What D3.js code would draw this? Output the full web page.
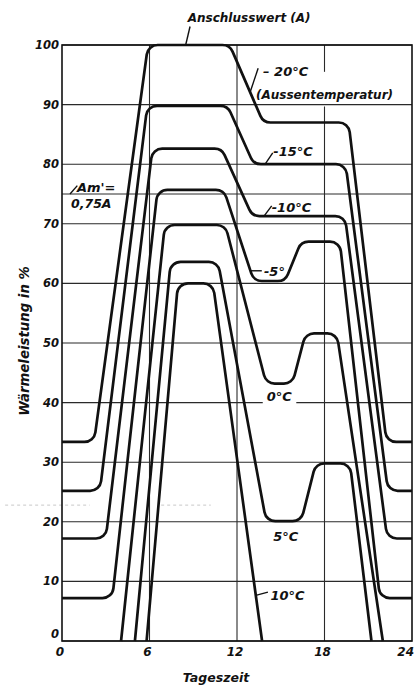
<!DOCTYPE html>
<html><head><meta charset="utf-8">
<script src="https://cdn.jsdelivr.net/npm/d3@7"></script>
<style>
html,body{margin:0;padding:0;background:#fff;}
svg{display:block;}
text{font-family:"DejaVu Sans",sans-serif;font-weight:bold;font-style:italic;fill:#111;}
</style></head>
<body><svg id="chart" width="415" height="687"></svg>
<script>
// ---- data (hour of day, heat output in %) ----
const xTicks = [0, 6, 12, 18, 24];
const yTicks = [0, 10, 20, 30, 40, 50, 60, 70, 80, 90, 100];
const seriesNames = ["-20°C", "-15°C", "-10°C", "-5°", "0°C", "5°C", "10°C"];
const curveMinus20 = [[0,33.4],[2.2,33.4],[5.9,100],[11.5,100],[13.8,87],[19.65,87],[22.25,33.4],[24,33.4]];
const curveMinus15 = [[0,25.2],[2.6,25.2],[5.85,89.8],[11.35,89.8],[13.15,80],[19.45,80],[22.35,25.2],[24,25.2]];
const curveMinus10 = [[0,17.2],[3.0,17.2],[6.2,82.6],[10.95,82.6],[13.05,71.3],[19.4,71.3],[22.3,17.2],[24,17.2]];
const curveMinus5  = [[0,7.2],[3.45,7.2],[6.55,75.7],[11.1,75.7],[13.15,60.4],[15.3,60.4],[16.4,67],[19.05,67],[21.8,7.2],[24,7.2]];
const curvePlus0   = [[4.05,0],[7.05,69.8],[11.2,69.8],[14.0,43.2],[15.8,43.2],[16.7,51.6],[18.85,51.6],[22.0,0]];
const curvePlus5   = [[5.0,0],[7.45,63.6],[10.7,63.6],[14.0,20.1],[16.4,20.1],[17.4,29.8],[19.75,29.8],[21.22,0]];
const curvePlus10  = [[5.8,0],[7.95,60],[10.35,60],[13.72,0]];
const connectedLoadLevel = 75; // Am' = 0,75 A
const curves = [curveMinus20, curveMinus15, curveMinus10, curveMinus5, curvePlus0, curvePlus5, curvePlus10];

// ---- layout ----
const svg = d3.select("#chart");
const x = d3.scaleLinear().domain([0, 24]).range([62, 412]);
const y = d3.scaleLinear().domain([0, 100]).range([641, 45]);

function valueAt(pts, h){
  for (let i=1;i<pts.length;i++){
    const a=pts[i-1], b=pts[i];
    if (h>=a[0] && h<=b[0]) return a[1]+(b[1]-a[1])*(h-a[0])/(b[0]-a[0]);
  }
  return pts[pts.length-1][1];
}

// faint scan artefact (dotted line)
const g0 = svg.append("g");
[[-3.9,1.9],[6.8,10.2]].forEach(s=>{
  g0.append("line").attr("x1",x(s[0])).attr("x2",x(s[1])).attr("y1",y(22.8)).attr("y2",y(22.8))
    .attr("stroke","#c8c8c8").attr("stroke-width",1).attr("stroke-dasharray","3,3");
});

// grid
const grid = svg.append("g").attr("stroke","#2a2a2a").attr("stroke-width",1.1);
yTicks.forEach(v=>{
  grid.append("line").attr("x1",x(0)).attr("x2",x(24)).attr("y1",y(v)).attr("y2",y(v));
});
const vGaps = {18: [89.7, 95.5]};
xTicks.slice(1,-1).forEach(h=>{
  if (vGaps[h]){
    grid.append("line").attr("x1",x(h)).attr("x2",x(h)).attr("y1",y(100)).attr("y2",y(vGaps[h][1]));
    grid.append("line").attr("x1",x(h)).attr("x2",x(h)).attr("y1",y(vGaps[h][0])).attr("y2",y(0));
  } else {
    grid.append("line").attr("x1",x(h)).attr("x2",x(h)).attr("y1",y(100)).attr("y2",y(0));
  }
});
// Am' line
grid.append("line").attr("x1",x(0)).attr("x2",x(24)).attr("y1",y(connectedLoadLevel)).attr("y2",y(connectedLoadLevel))
  .attr("stroke-width",1);

// frame
svg.append("rect").attr("x",x(0)).attr("y",y(100)).attr("width",x(24)-x(0)).attr("height",y(0)-y(100))
  .attr("fill","none").attr("stroke","#111").attr("stroke-width",1.6);

// label backgrounds (cut grid lines)
const bgG = svg.append("g");

// curves with rounded corners
function roundedPath(pts, r){
  const P = pts.map(d=>[x(d[0]), y(d[1])]);
  const p = d3.path();
  p.moveTo(P[0][0], P[0][1]);
  for (let i=1;i<P.length-1;i++){
    const a=P[i-1], b=P[i], c=P[i+1];
    const v1=[a[0]-b[0],a[1]-b[1]], v2=[c[0]-b[0],c[1]-b[1]];
    const l1=Math.hypot(...v1), l2=Math.hypot(...v2);
    const cos=(v1[0]*v2[0]+v1[1]*v2[1])/(l1*l2);
    const phi=Math.acos(Math.max(-1,Math.min(1,cos)));
    const maxR=Math.min(l1,l2)/2*Math.tan(phi/2);
    p.arcTo(b[0],b[1],c[0],c[1],Math.min(r,maxR));
  }
  p.lineTo(P[P.length-1][0], P[P.length-1][1]);
  return p.toString();
}
svg.append("g").selectAll("path").data(curves).join("path")
  .attr("d", d=>roundedPath(d, 11))
  .attr("fill","none").attr("stroke","#111").attr("stroke-width",2.7)
  .attr("stroke-linejoin","round");

// axes labels
const tl = svg.append("g");
yTicks.forEach(v=>{
  tl.append("text").attr("x",x(0)-3).attr("y",y(v)+ (v===0?-3:4)).attr("text-anchor","end")
    .attr("font-size",11.5).text(v);
});
xTicks.forEach((h,i)=>{
  const last = i===xTicks.length-1;
  tl.append("text").attr("x",last ? 414 : x(h)-2).attr("y",656)
    .attr("text-anchor", last ? "end" : "middle")
    .attr("font-size",12).text(h);
});
tl.append("text").attr("x",216).attr("y",682).attr("text-anchor","middle").attr("font-size",12.5).text("Tageszeit");
tl.append("text").attr("transform","translate(29,341) rotate(-90)").attr("text-anchor","middle")
  .attr("font-size",13.3).text("Wärmeleistung in %");

// annotations: text position in data units, optional leader from a curve (by hour) to a point
const annotations = [
  {text:"Anschlusswert  (A)", h:8.62, v:103.9, size:12, leader:[[8.48,100],[8.78,103.1]]},
  {text:"– 20°C", h:13.79, v:94.8, size:13, curve:0, from:12.9, to:[13.45,96.1]},
  {text:"(Aussentemperatur)", h:13.3, v:90.9, size:12, bg:true},
  {text:"-15°C", h:14.49, v:81.4, size:13, curve:1, from:13.93, to:[14.45,81.9]},
  {text:"-10°C", h:14.38, v:72.0, size:13, curve:2, from:13.85, to:[14.38,73.0]},
  {text:"-5°", h:13.85, v:61.2, size:13, curve:3, from:12.92, to:[13.7,62.0], flat:true},
  {text:"0°C", h:14.04, v:40.2, size:13, bg:true},
  {text:"5°C", h:14.49, v:16.7, size:13},
  {text:"10°C", h:14.3, v:6.8, size:13, curve:6, from:13.29, to:[14.12,8.2]},
  {text:"Am'=", h:1.03, v:75.3, size:13, leader:[[0.55,75],[1.05,76.4]]},
  {text:"0,75A", h:0.62, v:72.6, size:12.5}
];
const ag = svg.append("g");
annotations.forEach(a=>{
  const t = ag.append("text").attr("x",x(a.h)).attr("y",y(a.v)).attr("font-size",a.size).text(a.text);
  if (a.bg){
    const bb = t.node().getBBox();
    bgG.append("rect").attr("x",bb.x-4).attr("y",bb.y-1).attr("width",bb.width+8).attr("height",bb.height+2)
      .attr("fill","#fff");
  }
  let pts = null;
  if (a.leader) pts = a.leader.map(d=>[x(d[0]),y(d[1])]);
  if (a.curve!==undefined){
    const v0 = valueAt(curves[a.curve], a.from);
    pts = [[x(a.from),y(v0)],[x(a.to[0]),y(a.flat? v0 : a.to[1])]];
  }
  if (pts){
    ag.append("line").attr("x1",pts[0][0]).attr("y1",pts[0][1]).attr("x2",pts[1][0]).attr("y2",pts[1][1])
      .attr("stroke","#111").attr("stroke-width",1.4);
  }
});
</script></body></html>
